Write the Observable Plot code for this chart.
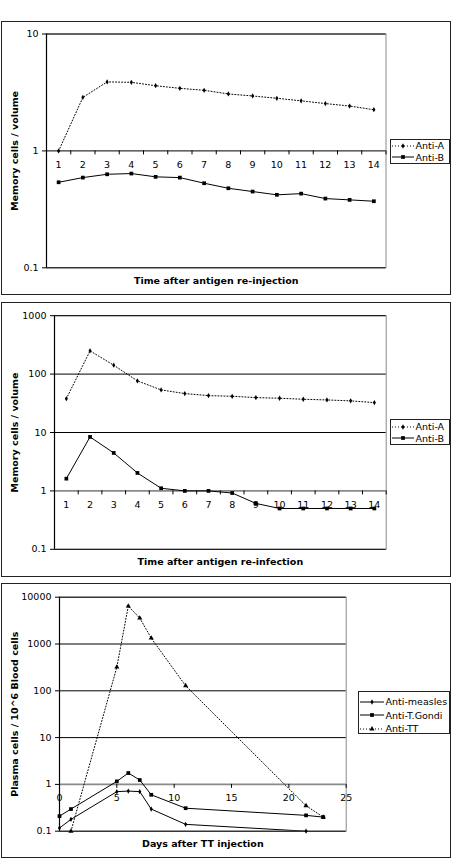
<!DOCTYPE html>
<html><head><meta charset="utf-8">
<script src="https://cdn.jsdelivr.net/npm/d3@7"></script>
<script src="https://cdn.jsdelivr.net/npm/@observablehq/plot@0.6"></script>
<style>
html,body{margin:0;padding:0;background:#fff;}
#root{position:relative;width:454px;height:862px;overflow:hidden;font-family:"DejaVu Sans",Verdana,sans-serif;}
.frame{position:absolute;box-sizing:border-box;border:1.5px solid #222;background:#fff;}
.legend{position:absolute;box-sizing:border-box;border:1px solid #222;background:#fff;font-family:"DejaVu Sans",sans-serif;font-size:9.5px;color:#000;}
.legend .row{position:absolute;left:1px;display:flex;align-items:center;height:12px;white-space:nowrap;}
.legend svg{display:block;}
</style>
</head><body>
<div id="root"></div>
<script>
// ---------- data ----------
const days = [1,2,3,4,5,6,7,8,9,10,11,12,13,14];
const dayBounds = [0.5,1.5,2.5,3.5,4.5,5.5,6.5,7.5,8.5,9.5,10.5,11.5,12.5,13.5,14.5];

// Panel 1: re-injection
const injAntiA = [1.0,2.87,3.89,3.86,3.61,3.43,3.30,3.07,2.95,2.82,2.68,2.54,2.42,2.25];
const injAntiB = [0.539,0.591,0.631,0.640,0.600,0.591,0.529,0.479,0.449,0.421,0.431,0.391,0.381,0.371];

// Panel 2: re-infection
const infAntiA = [38,250,142,76.5,53.6,46.4,42.8,41.7,39.6,38.6,37.1,36.1,34.8,32.5];
const infAntiB = [1.62,8.4,4.47,2.03,1.11,1.0,1.0,0.92,0.61,0.5,0.5,0.5,0.5,0.5];

// Panel 3: TT injection
const measlesDays = [0,1,5,6,7,8,11,21.5];
const measlesVals = [0.117,0.179,0.70,0.72,0.70,0.297,0.14,0.1];
const gondiDays = [0,1,5,6,7,8,11,21.5,23];
const gondiVals = [0.21,0.297,1.16,1.75,1.24,0.60,0.31,0.218,0.20];
const ttDays = [1,5,6,7,8,11,21.5,23];
const ttVals = [0.1,321,6450,3570,1336,128,0.35,0.20];

// ticks & labels
const p1YTicks = [0.1,1,10];
const p2YTicks = [0.1,1,10,100,1000];
const p3YTicks = [0.1,1,10,100,1000,10000];
const p3XTicks = [0,5,10,15,20,25];
const p1XTitle = "Time after antigen re-injection";
const p2XTitle = "Time after antigen re-infection";
const p3XTitle = "Days after TT injection";
const p12YTitle = "Memory cells / volume";
const p3YTitle = "Plasma cells / 10^6 Blood cells";
const abNames = ["Anti-A","Anti-B"];
const ttNames = ["Anti-measles","Anti-T.Gondi","Anti-TT"];

// ---------- helpers ----------
const root = document.getElementById("root");
const zip = (xs, ys) => xs.map((x, i) => ({x, y: ys[i]}));
const FONT = "DejaVu Sans";

function addFrame(top, bottom) {
  const d = document.createElement("div");
  d.className = "frame";
  d.style.left = "0.5px"; d.style.width = "450.5px";
  d.style.top = top + "px"; d.style.height = (bottom - top) + "px";
  root.appendChild(d);
}

function seriesMarks(pts, symbol, r, dotted) {
  return [
    Plot.line(pts, {x: "x", y: "y", stroke: "#000", strokeWidth: 1, strokeDasharray: dotted ? "1,2" : null, clip: true}),
    Plot.dot(pts, {x: "x", y: "y", symbol, r, fill: "#000", stroke: "none"})
  ];
}

function panel(cfg) {
  const {top, height, ml, mr, mt, mb, xDomain, yDomain, yTicks, grid, grayGrid,
         xTickPos, xLabelVals, tickLen, series, xTitle, yTitle, xTitleDy} = cfg;
  const pxPerDecade = (height - mt - mb) / Math.log10(yDomain[1] / yDomain[0]);
  const tickEnd = Math.pow(10, -tickLen / pxPerDecade);
  const svg = Plot.plot({
    width: 454, height,
    marginLeft: ml, marginRight: mr, marginTop: mt, marginBottom: mb,
    x: {type: "linear", domain: xDomain, axis: null},
    y: {type: "log", domain: yDomain, axis: null},
    style: {position: "absolute", left: "0px", top: top + "px", overflow: "visible",
            background: "transparent", fontFamily: FONT, fontSize: "9.5px", color: "#000"},
    marks: [
      Plot.frame({stroke: "#8a8a8a", strokeWidth: 1}),
      Plot.ruleY(grid, {y: d => d, stroke: "#000", strokeWidth: 1}),
      Plot.ruleY(grayGrid, {y: d => d, stroke: "#8a8a8a", strokeWidth: 1.6}),
      Plot.ruleX([xDomain[0]], {x: d => d, stroke: "#000", strokeWidth: 1.2}),
      Plot.axisY(yTicks, {label: null, tickSize: 4, tickPadding: 4, tickFormat: d => String(d), fontSize: 9.5, stroke: "#000"}),
      Plot.ruleX(xTickPos, {x: d => d, y1: () => 1, y2: () => tickEnd, stroke: "#000", strokeWidth: 1}),
      Plot.text(xLabelVals, {x: d => d, y: () => 1, dy: 14, text: d => String(d), fontSize: 9.5, fill: "#000"}),
      ...series,
      Plot.text([xTitle], {frameAnchor: "bottom", textAnchor: "middle", dy: xTitleDy, text: d => d, fontWeight: "bold", fontSize: 9.5, fill: "#000"}),
      Plot.text([yTitle], {frameAnchor: "left", textAnchor: "middle", rotate: -90, dx: 14 - ml, text: d => d, fontWeight: "bold", fontSize: 9.5, fill: "#000"})
    ]
  });
  root.appendChild(svg);
}

function legend(names, styles, box) {
  const d = document.createElement("div");
  d.className = "legend";
  d.style.left = box.left + "px"; d.style.top = box.top + "px";
  d.style.width = box.width + "px"; d.style.height = box.height + "px";
  names.forEach((name, i) => {
    const st = styles[i];
    const row = document.createElement("div");
    row.className = "row";
    row.style.top = (box.rowTop + i * box.rowH - 6) + "px";
    const sw = box.sampleW;
    const path = d3.symbol(st.type, st.size)();
    row.innerHTML = `<svg width="${sw}" height="12"><line x1="0" x2="${sw}" y1="6" y2="6" stroke="#000" stroke-width="1" ${st.dotted ? 'stroke-dasharray="1,2"' : ''}/><path d="${path}" transform="translate(${sw/2},6)" fill="#000"/></svg><span style="margin-left:2px">${name}</span>`;
    d.appendChild(row);
  });
  root.appendChild(d);
}

// ---------- frames ----------
addFrame(21, 295);
addFrame(301.5, 577);
addFrame(583, 858);

// ---------- panel 1 ----------
panel({
  top: 21, height: 274, ml: 46, mr: 68.5, mt: 12.5, mb: 27.7,
  xDomain: [0.5, 14.5], yDomain: [0.1, 10], yTicks: p1YTicks,
  grid: [0.1, 1, 10], grayGrid: [],
  xTickPos: dayBounds, xLabelVals: days, tickLen: 4,
  series: [
    ...seriesMarks(zip(days, injAntiA), "diamond", 1.6, true),
    ...seriesMarks(zip(days, injAntiB), "square", 2.1, false)
  ],
  xTitle: p1XTitle, yTitle: p12YTitle, xTitleDy: 15.7
});

// ---------- panel 2 ----------
panel({
  top: 301.5, height: 275.5, ml: 54, mr: 68.3, mt: 13.2, mb: 28.7,
  xDomain: [0.5, 14.5], yDomain: [0.1, 1000], yTicks: p2YTicks,
  grid: [0.1, 10, 100, 1000], grayGrid: [1],
  xTickPos: dayBounds, xLabelVals: days, tickLen: 4,
  series: [
    ...seriesMarks(zip(days, infAntiA), "diamond", 1.6, true),
    ...seriesMarks(zip(days, infAntiB), "square", 2.1, false)
  ],
  xTitle: p2XTitle, yTitle: p12YTitle, xTitleDy: 16
});

// ---------- panel 3 ----------
panel({
  top: 583, height: 275, ml: 59, mr: 108.3, mt: 13.7, mb: 27.3,
  xDomain: [0, 25], yDomain: [0.1, 10000], yTicks: p3YTicks,
  grid: [0.1, 10, 100, 1000, 10000], grayGrid: [1],
  xTickPos: p3XTicks, xLabelVals: p3XTicks, tickLen: 4,
  series: [
    ...seriesMarks(zip(measlesDays, measlesVals), "diamond", 1.6, false),
    ...seriesMarks(zip(gondiDays, gondiVals), "square", 2.1, false),
    ...seriesMarks(zip(ttDays, ttVals), "triangle", 1.9, true)
  ],
  xTitle: p3XTitle, yTitle: p3YTitle, xTitleDy: 16
});

// ---------- legends ----------
const abStyles = [{type: d3.symbolDiamond, size: 8, dotted: true}, {type: d3.symbolSquare, size: 14, dotted: false}];
legend(abNames, abStyles, {left: 389.5, top: 138.5, width: 60, height: 25, rowTop: 6, rowH: 11.5, sampleW: 22});
legend(abNames, abStyles, {left: 389.5, top: 419, width: 60, height: 26, rowTop: 6.5, rowH: 11.5, sampleW: 22});
const ttStyles = [{type: d3.symbolDiamond, size: 8, dotted: false}, {type: d3.symbolSquare, size: 14, dotted: false}, {type: d3.symbolTriangle, size: 11, dotted: true}];
legend(ttNames, ttStyles, {left: 357.5, top: 691, width: 92, height: 43, rowTop: 9.5, rowH: 13.5, sampleW: 24});
</script>
</body></html>
